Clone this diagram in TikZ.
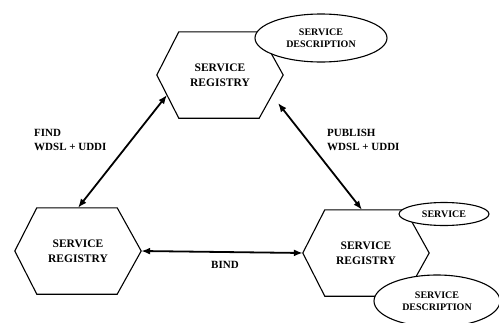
\documentclass[tikz,border=0pt]{standalone}
\usepackage{fontspec}
\setmainfont{Liberation Serif}
\usetikzlibrary{shapes,positioning,arrows.meta}
\tikzset{
	reg/.style={rectangle,minimum width=126pt,minimum height=86pt,inner sep=0pt,align=center,font=\fontsize{11.5}{14.5}\selectfont\bfseries},
	desc/.style={ellipse,draw,line width=1.1pt,fill=white,inner sep=0pt,align=center,font=\fontsize{10}{12.5}\selectfont\bfseries},
	lab/.style={anchor=west,inner sep=0pt,align=left,font=\fontsize{11}{13.5}\selectfont\bfseries},
	link/.style={{Latex[length=9pt,width=7pt]}-{Latex[length=9pt,width=7pt]},line width=1.8pt}
}
% hexagon drawn round a registry node
\newcommand{\hexa}[1]{\draw[line width=1.1pt] (#1.west) -- ([xshift=22pt]#1.north west) -- ([xshift=-24pt]#1.north east) -- (#1.east) -- ([xshift=-24pt]#1.south east) -- ([xshift=22pt]#1.south west) -- cycle;}
\begin{document}
\begin{tikzpicture}[x=1pt,y=-1pt]
	\useasboundingbox (0,0) rectangle (499,322);
	
	%registries
	\node[reg] (topreg) at (220,75) {SERVICE\\REGISTRY};
	\node[reg] (findreg) at (78,251) {SERVICE\\REGISTRY};
	\node[reg] (provreg) at (366,253) {SERVICE\\REGISTRY};
	\hexa{topreg}
	\hexa{findreg}
	\hexa{provreg}
	
	%ellipses
	\node[desc,minimum width=132pt,minimum height=48pt] (topdesc) at (321,38) {SERVICE\\DESCRIPTION};
	\node[desc,minimum width=90pt,minimum height=23pt] (serv) at (444,214) {SERVICE};
	\node[desc,minimum width=126pt,minimum height=52pt] (provdesc) at (437,301) {SERVICE\\DESCRIPTION};
	
	%links
	\draw[link] ([shift={(-53,20)}]topreg.center) -- (findreg.north);
	\draw[link] ([shift={(58,28)}]topreg.center) -- ([xshift=-4pt]provreg.north);
	\draw[link] (findreg.east) -- (provreg.west);
	
	%labels
	\node[lab] (findlab) at (34,140) {FIND\\WDSL + UDDI};
	\node[lab] (publab) at (327,140) {PUBLISH\\WDSL + UDDI};
	\node[font=\fontsize{11}{13.5}\selectfont\bfseries] (bindlab) at (225,265) {BIND};
\end{tikzpicture}
\end{document}
